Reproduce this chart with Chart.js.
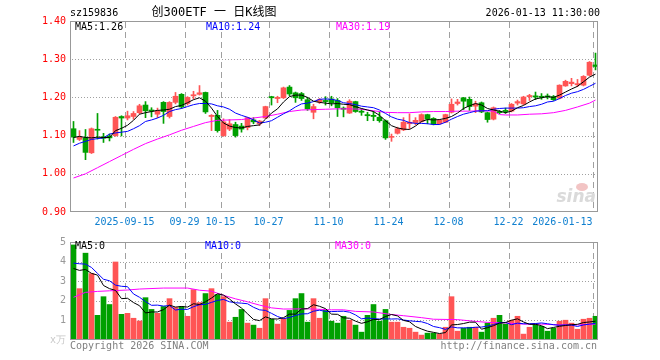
<!DOCTYPE html>
<html>
<head>
<meta charset="utf-8">
<script src="https://cdn.jsdelivr.net/npm/chart.js@4.4.1/dist/chart.umd.min.js"></script>
<style>
  html, body { margin: 0; padding: 0; background: #fff; }
  #wrap { position: relative; width: 660px; height: 360px; }
  canvas { position: absolute; left: 0; }
</style>
</head>
<body>
<div id="wrap">
  <canvas id="kline" width="660" height="232" style="top:0"></canvas>
  <canvas id="vol" width="660" height="128" style="top:232px"></canvas>
</div>
<script>
// trading days shown on the chart
const dates = [
  '2025-09-02','2025-09-03','2025-09-04','2025-09-05','2025-09-08','2025-09-09','2025-09-10','2025-09-11','2025-09-12','2025-09-15',
  '2025-09-16','2025-09-17','2025-09-18','2025-09-19','2025-09-22','2025-09-23','2025-09-24','2025-09-25','2025-09-26','2025-09-29',
  '2025-09-30','2025-10-09','2025-10-10','2025-10-13','2025-10-14','2025-10-15','2025-10-16','2025-10-17','2025-10-20','2025-10-21',
  '2025-10-22','2025-10-23','2025-10-24','2025-10-27','2025-10-28','2025-10-29','2025-10-30','2025-10-31','2025-11-03','2025-11-04',
  '2025-11-05','2025-11-06','2025-11-07','2025-11-10','2025-11-11','2025-11-12','2025-11-13','2025-11-14','2025-11-17','2025-11-18',
  '2025-11-19','2025-11-20','2025-11-21','2025-11-24','2025-11-25','2025-11-26','2025-11-27','2025-11-28','2025-12-01','2025-12-02',
  '2025-12-03','2025-12-04','2025-12-05','2025-12-08','2025-12-09','2025-12-10','2025-12-11','2025-12-12','2025-12-15','2025-12-16',
  '2025-12-17','2025-12-18','2025-12-19','2025-12-22','2025-12-23','2025-12-24','2025-12-25','2025-12-26','2025-12-29','2025-12-30',
  '2025-12-31','2026-01-05','2026-01-06','2026-01-07','2026-01-08','2026-01-09','2026-01-12','2026-01-13'
];

const open = [
  1.118,1.090,1.094,1.055,1.116,1.097,1.099,1.100,1.150,1.146,
  1.150,1.160,1.180,1.167,1.156,1.187,1.150,1.187,1.208,1.184,
  1.204,1.208,1.213,1.150,1.153,1.100,1.117,1.129,1.125,1.121,
  1.141,1.131,1.146,1.202,1.197,1.199,1.227,1.212,1.210,1.194,
  1.161,1.188,1.192,1.196,1.192,1.172,1.159,1.189,1.164,1.155,
  1.153,1.148,1.139,1.0955,1.106,1.115,1.131,1.134,1.137,1.155,
  1.145,1.131,1.135,1.161,1.184,1.199,1.195,1.177,1.186,1.160,
  1.143,1.163,1.166,1.164,1.185,1.183,1.202,1.204,1.203,1.204,
  1.202,1.198,1.230,1.236,1.233,1.232,1.258,1.285
];
const close = [
  1.096,1.096,1.056,1.118,1.114,1.093,1.094,1.148,1.146,1.152,
  1.158,1.178,1.165,1.164,1.165,1.163,1.187,1.203,1.175,1.200,
  1.207,1.212,1.162,1.153,1.113,1.136,1.131,1.100,1.117,1.147,
  1.136,1.138,1.176,1.199,1.200,1.225,1.209,1.199,1.197,1.170,
  1.176,1.194,1.189,1.186,1.173,1.169,1.190,1.163,1.161,1.152,
  1.150,1.139,1.094,1.097,1.118,1.135,1.135,1.140,1.155,1.143,
  1.130,1.140,1.155,1.182,1.188,1.190,1.176,1.183,1.162,1.142,
  1.173,1.160,1.163,1.182,1.189,1.201,1.205,1.201,1.200,1.201,
  1.194,1.232,1.242,1.240,1.236,1.255,1.292,1.281
];
const high = [
  1.137,1.113,1.116,1.120,1.158,1.106,1.104,1.150,1.152,1.164,
  1.163,1.182,1.189,1.173,1.172,1.189,1.189,1.213,1.210,1.202,
  1.216,1.231,1.214,1.155,1.166,1.144,1.142,1.135,1.132,1.148,
  1.147,1.140,1.177,1.203,1.203,1.227,1.231,1.214,1.213,1.200,
  1.182,1.197,1.202,1.203,1.197,1.175,1.194,1.190,1.170,1.161,
  1.164,1.161,1.141,1.104,1.122,1.147,1.157,1.147,1.157,1.156,
  1.147,1.142,1.156,1.196,1.195,1.200,1.201,1.190,1.188,1.161,
  1.175,1.166,1.172,1.184,1.193,1.203,1.208,1.214,1.210,1.209,
  1.205,1.233,1.245,1.250,1.247,1.257,1.294,1.316
];
const low = [
  1.082,1.087,1.037,1.053,1.091,1.082,1.086,1.098,1.099,1.141,
  1.143,1.157,1.147,1.149,1.147,1.132,1.146,1.183,1.171,1.180,
  1.196,1.206,1.158,1.113,1.109,1.098,1.113,1.096,1.109,1.115,
  1.131,1.126,1.145,1.180,1.186,1.197,1.204,1.187,1.192,1.166,
  1.144,1.184,1.180,1.178,1.150,1.149,1.158,1.161,1.153,1.139,
  1.139,1.135,1.090,1.085,1.104,1.113,1.118,1.128,1.135,1.131,
  1.128,1.129,1.134,1.159,1.180,1.168,1.166,1.160,1.160,1.135,
  1.141,1.157,1.158,1.162,1.180,1.181,1.192,1.194,1.195,1.196,
  1.192,1.196,1.229,1.230,1.228,1.230,1.256,1.272
];

// moving averages
const ma5 = [
  1.095,1.098,1.095,1.094,1.096,1.095,1.095,1.113,1.119,1.127,
  1.140,1.156,1.160,1.163,1.166,1.167,1.169,1.176,1.179,1.186,
  1.194,1.199,1.190,1.172,1.150,1.133,1.125,1.121,1.120,1.124,
  1.126,1.128,1.143,1.159,1.170,1.188,1.202,1.206,1.206,1.200,
  1.190,1.187,1.185,1.183,1.184,1.182,1.181,1.176,1.171,1.167,
  1.163,1.153,1.139,1.126,1.120,1.117,1.116,1.125,1.137,1.142,
  1.141,1.142,1.145,1.150,1.159,1.171,1.178,1.184,1.180,1.171,
  1.167,1.164,1.160,1.164,1.173,1.179,1.188,1.196,1.199,1.202,
  1.200,1.206,1.214,1.222,1.229,1.241,1.253,1.261
];
const ma10 = [
  1.073,1.080,1.085,1.090,1.092,1.094,1.104,1.107,1.109,1.111,
  1.118,1.126,1.137,1.141,1.146,1.153,1.163,1.168,1.171,1.176,
  1.181,1.184,1.184,1.183,1.178,1.175,1.169,1.159,1.153,1.148,
  1.141,1.133,1.135,1.139,1.148,1.157,1.165,1.175,1.183,1.185,
  1.189,1.195,1.196,1.195,1.192,1.186,1.184,1.181,1.177,1.175,
  1.173,1.167,1.158,1.149,1.143,1.140,1.134,1.132,1.132,1.131,
  1.129,1.129,1.135,1.143,1.150,1.156,1.160,1.164,1.165,1.165,
  1.169,1.171,1.172,1.172,1.172,1.173,1.176,1.178,1.182,1.188,
  1.190,1.197,1.205,1.211,1.215,1.221,1.229,1.237
];
const ma30At = [0,2,4,6,8,10,12,14,16,18,20,22,24,26,28,30,32,34,36,38,40,42,44,46,48,50,52,54,56,58,60,62,64,66,68,70,71,72,74,76,78,80,82,84,86,87];
const ma30 = [
  0.989,1.000,1.016,1.032,1.048,1.064,1.079,1.091,1.102,1.114,
  1.124,1.134,1.140,1.141,1.142,1.146,1.150,1.156,1.163,1.167,
  1.168,1.169,1.170,1.170,1.169,1.165,1.161,1.160,1.160,1.162,
  1.163,1.163,1.164,1.164,1.165,1.164,1.155,1.154,1.154,1.156,
  1.157,1.160,1.166,1.175,1.185,1.193
];

// volume (x万)
const volume = [
  4.85,2.62,4.43,3.39,1.26,2.21,1.81,3.98,1.31,1.36,
  1.11,0.97,2.16,1.56,1.36,1.71,2.11,1.66,1.71,1.21,
  2.57,1.91,2.37,2.62,2.32,2.21,0.91,1.16,1.56,0.86,
  0.76,0.60,2.11,1.06,0.81,1.11,1.51,2.11,2.37,0.91,
  2.11,1.11,1.51,0.96,0.86,1.21,1.01,0.76,0.40,1.26,
  1.81,0.96,1.56,0.91,0.91,0.65,0.60,0.40,0.25,0.35,
  0.35,0.30,0.65,2.21,0.45,0.60,0.65,0.65,0.40,0.86,
  1.11,1.26,0.81,1.01,1.21,0.30,0.65,0.81,0.70,0.45,
  0.60,0.96,1.01,0.86,0.55,1.06,1.11,1.21
];
const volMa5 = [
  3.65,3.55,3.60,3.40,3.31,2.78,2.62,2.53,2.11,2.13,
  1.91,1.75,1.38,1.43,1.43,1.55,1.78,1.68,1.71,1.68,
  1.85,1.81,1.95,2.14,2.36,2.29,2.09,1.84,1.63,1.34,
  1.05,0.99,1.18,1.08,1.07,1.14,1.32,1.32,1.58,1.60,
  1.80,1.72,1.60,1.32,1.31,1.13,1.11,0.96,0.85,0.93,
  1.05,1.04,1.20,1.30,1.23,1.00,0.93,0.69,0.56,0.45,
  0.39,0.33,0.38,0.77,0.79,0.84,0.91,0.91,0.55,0.63,
  0.73,0.86,0.89,1.01,1.08,0.92,0.80,0.80,0.73,0.58,
  0.64,0.70,0.74,0.78,0.80,0.89,0.92,0.96
];
const volMa10 = [
  3.92,3.89,3.87,3.70,3.40,3.10,3.02,2.80,2.74,2.72,
  2.35,2.18,1.96,1.77,1.78,1.73,1.76,1.53,1.57,1.56,
  1.70,1.80,1.82,1.92,2.02,2.07,1.95,1.90,1.88,1.85,
  1.67,1.54,1.51,1.36,1.20,1.09,1.15,1.25,1.33,1.34,
  1.47,1.52,1.46,1.45,1.46,1.47,1.42,1.28,1.08,1.12,
  1.09,1.07,1.08,1.07,1.08,1.02,0.98,0.95,0.93,0.84,
  0.69,0.63,0.54,0.67,0.62,0.62,0.62,0.65,0.66,0.71,
  0.79,0.88,0.90,0.78,0.86,0.83,0.83,0.84,0.87,0.83,
  0.78,0.75,0.77,0.76,0.69,0.77,0.81,0.85
];
const volMa30At = [0,2,4,6,9,11,15,19,21,23,25,27,29,31,33,35,39,43,45,47,50,53,55,58,60,64,67,69,72,75,78,81,84,87];
const volMa30 = [
  2.18,2.43,2.48,2.51,2.55,2.60,2.65,2.65,2.54,2.49,
  2.28,2.10,1.95,1.78,1.64,1.58,1.59,1.54,1.54,1.46,
  1.43,1.30,1.24,1.14,1.06,1.04,0.95,0.90,0.87,0.81,
  0.81,0.77,0.77,0.81
];

// days that get a date label and a dashed grid line
const tickAt = [9, 19, 25, 33, 43, 53, 63, 73, 87];

const RED = '#ff5555', GREEN = '#00a000';
const MONO = "'DejaVu Sans Mono', monospace";
const FONT = { family: MONO, size: 10 };
const candleColor = close.map((c, k) => c >= open[k] ? RED : GREEN);

const seq = vals => vals.map((v, k) => ({ x: k, y: v }));
const pts = (at, vals) => vals.map((v, j) => ({ x: at[j], y: v }));
const label = k => (k === tickAt[0] || k === dates.length - 1) ? dates[k] : dates[k].slice(5);

const line = (data, color) => ({
  type: 'line', data, borderColor: color, borderWidth: 1,
  pointRadius: 0, tension: 0, fill: false, order: 0
});

function xAxis(showLabels) {
  return {
    type: 'linear',
    offset: false,
    min: -0.5 - 1 / 12,
    max: dates.length - 0.5 - 1 / 12,
    afterBuildTicks: s => {
      s.ticks = [{ value: -0.5 }].concat(tickAt.map(k => ({ value: k - 0.5 })));
    },
    afterFit: s => { s.height = showLabels ? 20 : 0; },
    grid: { display: false, drawTicks: false, offset: false },
    border: { display: false },
    ticks: {
      display: showLabels, autoSkip: false, maxRotation: 0, align: 'inner',
      padding: 4, color: '#1080d0', font: FONT,
      callback: (v, i) => i === 0 ? '' : label(tickAt[i - 1])
    }
  };
}

// dotted price lines and dashed date lines under the marks, placed through the scales
const gridLines = {
  id: 'gridLines',
  beforeDatasetsDraw(chart) {
    const { ctx, chartArea: a } = chart;
    const sx = chart.scales.x, sy = chart.scales.y;
    ctx.save();
    ctx.fillStyle = '#a0a0a0';
    sy.ticks.forEach(t => {
      const py = Math.round(sy.getPixelForValue(t.value));
      if (py < a.top + 2 || py > a.bottom - 2) return;
      for (let px = a.left + 2; px < a.right - 1; px += 3) ctx.fillRect(px, py, 1, 1);
    });
    tickAt.forEach(k => {
      const px = Math.round(sx.getPixelForValue(k - 0.5));
      for (let py = a.top + 1; py < a.bottom - 1; py += 10) {
        ctx.fillRect(px, py, 1, Math.min(6, a.bottom - 1 - py));
      }
    });
    ctx.restore();
  }
};

// frame round the plot and the loose texts
const frame = {
  id: 'frame',
  afterDraw(chart, args, opts) {
    const { ctx, chartArea: a } = chart;
    ctx.save();
    ctx.strokeStyle = '#999';
    ctx.lineWidth = 1;
    ctx.strokeRect(a.left + 0.5, a.top + 0.5, a.right - a.left - 1, a.bottom - a.top - 1);
    if (opts.logo) {
      ctx.fillStyle = '#f2c4c4';
      ctx.beginPath();
      ctx.ellipse(582, 187, 6, 4, 0, 0, Math.PI * 2);
      ctx.fill();
      ctx.font = "italic bold 17px 'DejaVu Sans'";
      ctx.fillStyle = '#dadada';
      ctx.textAlign = 'right';
      ctx.textBaseline = 'alphabetic';
      ctx.fillText('sina', 596, 202);
    }
    ctx.textBaseline = 'middle';
    (opts.texts || []).forEach(t => {
      ctx.font = (t.size || 10) + 'px ' + MONO + ", 'Noto Sans CJK SC'";
      ctx.fillStyle = t.color || '#000';
      ctx.textAlign = t.align || 'left';
      ctx.fillText(t.text, t.x, t.y);
    });
    ctx.restore();
  }
};

new Chart(document.getElementById('kline'), {
  type: 'bar',
  data: {
    datasets: [
      line(seq(ma5), '#000000'),
      line(seq(ma10), '#0000ff'),
      line(pts(ma30At, ma30), '#ff00ff'),
      {
        type: 'bar', order: 1, grouped: false, barThickness: 5, minBarLength: 1,
        data: close.map((c, k) => ({ x: k, y: [open[k], c] })),
        backgroundColor: candleColor
      },
      {
        type: 'bar', order: 2, grouped: false, barThickness: 1,
        data: close.map((c, k) => ({ x: k, y: [low[k], high[k]] })),
        backgroundColor: candleColor
      }
    ]
  },
  options: {
    responsive: false, animation: false, devicePixelRatio: 1, events: [],
    layout: { padding: { top: 21, right: 62, bottom: 0, left: 0 } },
    scales: {
      x: xAxis(true),
      y: {
        min: 0.9, max: 1.4,
        afterFit: s => { s.width = 70; },
        ticks: { stepSize: 0.1, color: '#ff0000', font: FONT, padding: 4, callback: v => v.toFixed(2) },
        grid: { display: false, drawTicks: false },
        border: { display: false }
      }
    },
    plugins: {
      legend: { display: false },
      tooltip: { enabled: false },
      frame: {
        logo: true,
        texts: [
          { text: 'sz159836', x: 70, y: 13 },
          { text: '创300ETF 一 日K线图', x: 214, y: 13, align: 'center', size: 12 },
          { text: '2026-01-13 11:30:00', x: 600, y: 13, align: 'right' },
          { text: 'MA5:' + ma5[ma5.length - 1].toFixed(2), x: 75, y: 27 },
          { text: 'MA10:' + ma10[ma10.length - 1].toFixed(2), x: 206, y: 27, color: '#0000ff' },
          { text: 'MA30:' + ma30[ma30.length - 1].toFixed(2), x: 336, y: 27, color: '#ff00ff' }
        ]
      }
    }
  },
  plugins: [gridLines, frame]
});

new Chart(document.getElementById('vol'), {
  type: 'bar',
  data: {
    datasets: [
      line(seq(volMa5), '#000000'),
      line(seq(volMa10), '#0000ff'),
      line(pts(volMa30At, volMa30), '#ff00ff'),
      {
        type: 'bar', order: 1, grouped: false, barThickness: 5,
        data: volume.map((v, k) => ({ x: k, y: v })),
        backgroundColor: candleColor
      }
    ]
  },
  options: {
    responsive: false, animation: false, devicePixelRatio: 1, events: [],
    layout: { padding: { top: 9, right: 62, bottom: 20, left: 0 } },
    scales: {
      x: xAxis(false),
      y: {
        min: 0, max: 5,
        afterFit: s => { s.width = 70; },
        ticks: {
          stepSize: 1, padding: 4, font: FONT,
          color: c => c.tick.value === 0 ? '#c8c8c8' : '#999999',
          callback: v => v === 0 ? 'x万' : String(v)
        },
        grid: { display: false, drawTicks: false },
        border: { display: false }
      }
    },
    plugins: {
      legend: { display: false },
      tooltip: { enabled: false },
      frame: {
        texts: [
          { text: 'MA5:0', x: 75, y: 14 },
          { text: 'MA10:0', x: 205, y: 14, color: '#0000ff' },
          { text: 'MA30:0', x: 335, y: 14, color: '#ff00ff' },
          { text: 'Copyright 2026 SINA.COM', x: 70, y: 114, color: '#808080' },
          { text: 'http://finance.sina.com.cn', x: 597, y: 114, align: 'right', color: '#808080' }
        ]
      }
    }
  },
  plugins: [gridLines, frame]
});
</script>
</body>
</html>
